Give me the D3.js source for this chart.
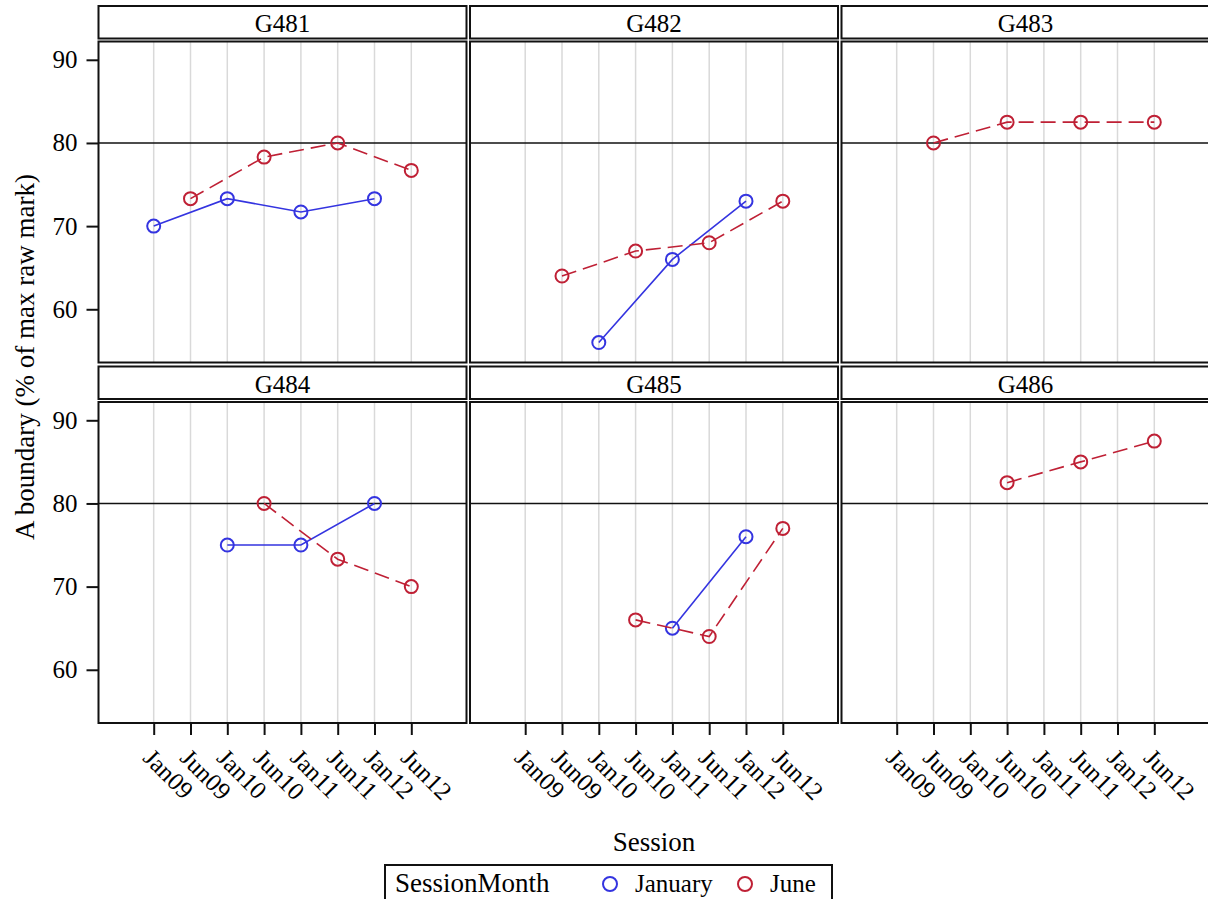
<!DOCTYPE html>
<html>
<head>
<meta charset="utf-8">
<script src="https://cdn.jsdelivr.net/npm/d3@7"></script>
<style>
  body { margin: 0; background: #fff; }
  svg text { font-family: "Liberation Serif", "DejaVu Serif", "Times New Roman", Times, serif; fill: #000; }
</style>
</head>
<body>
<svg id="chart" width="1208" height="899"></svg>
<script>
// data
var sessions = ["Jan09", "Jun09", "Jan10", "Jun10", "Jan11", "Jun11", "Jan12", "Jun12"];
var groups = ["G481", "G482", "G483", "G484", "G485", "G486"];
var janSessions = ["Jan09", "Jan10", "Jan11", "Jan12"];
var junSessions = ["Jun09", "Jun10", "Jun11", "Jun12"];
var janValues = [
  [70, 73.3, 71.7, 73.3],     // G481
  [null, 56, 66, 73],         // G482
  [null, null, null, null],   // G483
  [null, 75, 75, 80],         // G484
  [null, null, 65, 76],       // G485
  [null, null, null, null]    // G486
];
var junValues = [
  [73.3, 78.3, 80, 76.7],
  [64, 67, 68, 73],
  [80, 82.5, 82.5, 82.5],
  [null, 80, 73.3, 70],
  [null, 66, 64, 77],
  [null, 82.5, 85, 87.5]
];
var yTicks = [60, 70, 80, 90];
var refValue = 80;
var months = ["January", "June"];

var colors = {January: "#3434e0", June: "#bf2035"};
var serif = '"Liberation Serif", "DejaVu Serif", "Times New Roman", Times, serif';

var svg = d3.select("#chart");

var colLeft = [98.5, 470, 841.5],
    panelW = 368,
    rowTop = [6, 366.5],   // strip tops
    stripH = 32.5,
    plotOff = 35.5,        // strip top -> plot top
    plotH = 321;

var x = d3.scalePoint().domain(sessions).padding(1.5);
var yDomain = [53.6, 92.2];

function seriesOf(vals, sess) {
  var out = [];
  vals.forEach(function (v, i) { if (v != null) out.push({s: sess[i], v: v}); });
  return out;
}

groups.forEach(function (g, gi) {
  var col = gi % 3, row = Math.floor(gi / 3);
  var x0 = colLeft[col], top = rowTop[row];
  var py0 = top + plotOff, py1 = py0 + plotH;
  var xs = x.copy().range([x0, x0 + panelW]);
  var y = d3.scaleLinear().domain(yDomain).range([py1, py0]);

  var p = svg.append("g").attr("class", "panel");

  // strip header
  p.append("rect")
    .attr("x", x0).attr("y", top).attr("width", panelW).attr("height", stripH)
    .attr("fill", "#fff").attr("stroke", "#111").attr("stroke-width", 2);
  p.append("text")
    .attr("x", x0 + panelW / 2).attr("y", top + 26)
    .attr("text-anchor", "middle").style("font-size", "25px")
    .text(g);

  p.append("rect")
    .attr("x", x0).attr("y", py0).attr("width", panelW).attr("height", plotH)
    .attr("fill", "#fff");

  // vertical grid
  p.selectAll(".vgrid").data(sessions).enter().append("line")
    .attr("x1", function (d) { return xs(d); }).attr("x2", function (d) { return xs(d); })
    .attr("y1", py0).attr("y2", py1)
    .attr("stroke", "#d9d9d9").attr("stroke-width", 1.5);

  // reference line
  p.append("line")
    .attr("x1", x0).attr("x2", x0 + panelW)
    .attr("y1", y(refValue)).attr("y2", y(refValue))
    .attr("stroke", "#111").attr("stroke-width", 1.6);

  var line = d3.line().x(function (d) { return xs(d.s); }).y(function (d) { return y(d.v); });

  var data = [
    {m: "January", pts: seriesOf(janValues[gi], janSessions), dash: null},
    {m: "June", pts: seriesOf(junValues[gi], junSessions), dash: "15,7"}
  ];

  data.forEach(function (s) {
    if (!s.pts.length) return;
    p.append("path")
      .attr("d", line(s.pts))
      .attr("fill", "none")
      .attr("stroke", colors[s.m])
      .attr("stroke-width", 1.6)
      .attr("stroke-dasharray", s.dash);
    p.selectAll(".pt-" + s.m).data(s.pts).enter().append("circle")
      .attr("cx", function (d) { return xs(d.s); })
      .attr("cy", function (d) { return y(d.v); })
      .attr("r", 6.5)
      .attr("fill", "none")
      .attr("stroke", colors[s.m])
      .attr("stroke-width", 2);
  });

  // frame
  p.append("rect")
    .attr("x", x0).attr("y", py0).attr("width", panelW).attr("height", plotH)
    .attr("fill", "none").attr("stroke", "#111").attr("stroke-width", 2);

  // y axis on first column
  if (col === 0) {
    var ya = p.append("g").attr("transform", "translate(" + x0 + ",0)")
      .call(d3.axisLeft(y).tickValues(yTicks).tickSize(12).tickPadding(9));
    ya.attr("font-family", null);
    ya.select(".domain").remove();
    ya.selectAll(".tick line").attr("stroke", "#111").attr("stroke-width", 2);
    ya.selectAll(".tick text").style("font-size", "25px")
      .style("font-family", serif).attr("fill", "#111");
  }

  // x axis under second row
  if (row === 1) {
    var xa = p.append("g").attr("transform", "translate(0," + py1 + ")")
      .call(d3.axisBottom(xs).tickSize(12).tickPadding(0));
    xa.attr("font-family", null);
    xa.select(".domain").remove();
    xa.selectAll(".tick line").attr("stroke", "#111").attr("stroke-width", 2);
    xa.selectAll(".tick text")
      .style("font-size", "25px").style("font-family", serif)
      .attr("fill", "#111")
      .attr("text-anchor", "start")
      .attr("x", 0).attr("y", 0).attr("dy", "0.7em")
      .attr("transform", "translate(0,24) rotate(45)");
  }
});

// axis titles
svg.append("text")
  .attr("x", 654).attr("y", 851)
  .attr("text-anchor", "middle").style("font-size", "27px")
  .text("Session");

svg.append("text")
  .attr("transform", "translate(34,357) rotate(-90)")
  .attr("text-anchor", "middle").style("font-size", "27px")
  .text("A boundary (% of max raw mark)");

// legend
var lg = svg.append("g");
lg.append("rect")
  .attr("x", 385).attr("y", 865).attr("width", 447).attr("height", 50)
  .attr("fill", "#fff").attr("stroke", "#111").attr("stroke-width", 2);
lg.append("text").attr("x", 395).attr("y", 892).style("font-size", "27px").text("SessionMonth");
var legX = {January: 610, June: 745};
months.forEach(function (m) {
  lg.append("circle").attr("cx", legX[m]).attr("cy", 884).attr("r", 7)
    .attr("fill", "none").attr("stroke", colors[m]).attr("stroke-width", 2);
  lg.append("text").attr("x", legX[m] + 25).attr("y", 892).style("font-size", "25px").text(m);
});
</script>
</body>
</html>
